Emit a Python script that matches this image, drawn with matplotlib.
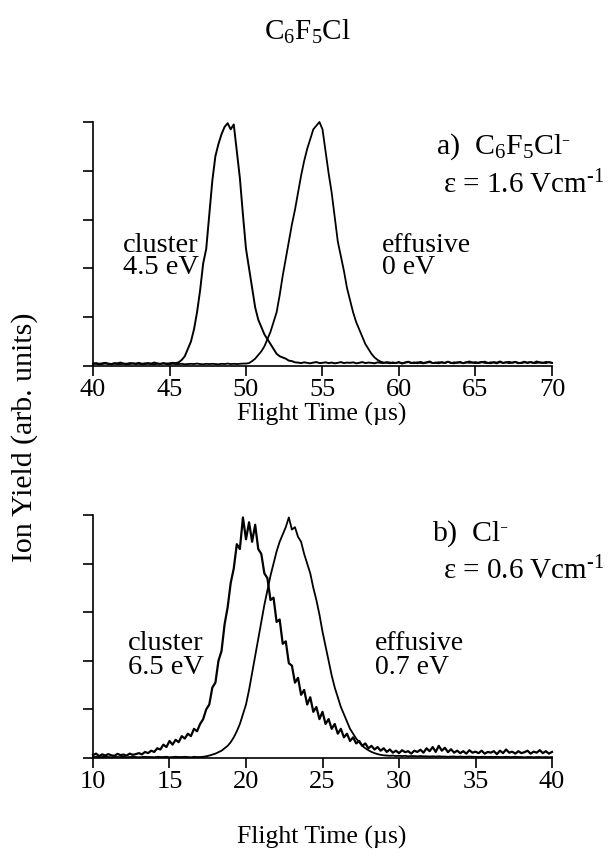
import numpy as np
import matplotlib
matplotlib.use("Agg")
import matplotlib.pyplot as plt

plt.rcParams['font.family'] = 'serif'
plt.rcParams['font.serif'] = ['Liberation Serif', 'DejaVu Serif']
plt.rcParams['mathtext.fontset'] = 'custom'
plt.rcParams['mathtext.rm'] = 'Liberation Serif'
plt.rcParams['mathtext.it'] = 'Liberation Serif:italic'

# time-of-flight bins (us), 0.2 us steps
t_a = np.round(np.arange(40.0, 70.01, 0.2), 2)
t_b = np.round(np.arange(10.0, 40.01, 0.2), 2)

# a) C6F5Cl- , cluster beam
cluster_a = [
    0.010, 0.012, 0.009, 0.011, 0.013, 0.010, 0.008, 0.012, 0.011, 0.014,
    0.010, 0.009, 0.012, 0.011, 0.010, 0.013, 0.009, 0.011, 0.012, 0.010,
    0.014, 0.011, 0.009, 0.012, 0.010, 0.011, 0.013, 0.012,
    0.015, 0.025, 0.040, 0.070, 0.100, 0.150, 0.220, 0.310, 0.420, 0.480,
    0.620, 0.760, 0.860, 0.910, 0.950, 0.980, 0.995, 0.970, 0.990, 0.880,
    0.770, 0.620, 0.480, 0.400, 0.320, 0.240, 0.190, 0.160, 0.130, 0.110,
    0.090, 0.070, 0.050, 0.040, 0.035, 0.030, 0.022, 0.020, 0.015,
    0.014, 0.012, 0.015, 0.013, 0.011, 0.014, 0.016, 0.012, 0.013, 0.015,
    0.012, 0.014, 0.011, 0.013, 0.016, 0.012, 0.014, 0.013, 0.015, 0.011,
    0.013, 0.016, 0.012, 0.014, 0.013, 0.011, 0.015, 0.013, 0.012, 0.016,
    0.014, 0.012, 0.013, 0.015, 0.011, 0.014, 0.016, 0.013, 0.012, 0.015,
    0.013, 0.011, 0.014, 0.016, 0.012, 0.013, 0.015, 0.014, 0.012, 0.017,
    0.013, 0.011, 0.015, 0.014, 0.012, 0.016, 0.013, 0.015, 0.012, 0.014,
    0.017, 0.013, 0.012, 0.015, 0.014, 0.011, 0.016, 0.013, 0.015, 0.012,
    0.014, 0.017, 0.013, 0.012, 0.015, 0.014, 0.016, 0.012, 0.013, 0.015,
    0.014, 0.012, 0.016, 0.013,
]

# a) effusive beam
effusive_a = [
    0.008, 0.009, 0.007, 0.008, 0.010, 0.008, 0.007, 0.009, 0.008, 0.008,
    0.009, 0.007, 0.008, 0.010, 0.008, 0.009, 0.007, 0.008, 0.009, 0.008,
    0.007, 0.009, 0.008, 0.010, 0.008, 0.007, 0.009, 0.008, 0.008, 0.009,
    0.007, 0.008, 0.009, 0.008, 0.010, 0.008, 0.007, 0.009, 0.008, 0.009,
    0.008, 0.007, 0.009, 0.008, 0.010, 0.008, 0.009, 0.008, 0.009, 0.010,
    0.010,
    0.012, 0.020, 0.030, 0.045, 0.060, 0.080, 0.110, 0.140, 0.180, 0.220,
    0.290, 0.370, 0.440, 0.510, 0.580, 0.640, 0.710, 0.780, 0.840, 0.890,
    0.930, 0.970, 0.985, 1.000, 0.970, 0.880, 0.790, 0.710, 0.610, 0.510,
    0.450, 0.390, 0.320, 0.270, 0.220, 0.180, 0.150, 0.120, 0.090, 0.070,
    0.050, 0.035, 0.025, 0.018, 0.014,
    0.013, 0.011, 0.015, 0.012, 0.016, 0.010, 0.014, 0.018, 0.012, 0.015,
    0.011, 0.017, 0.013, 0.015, 0.019, 0.012, 0.014, 0.011, 0.016, 0.013,
    0.018, 0.012, 0.015, 0.013, 0.017, 0.011, 0.014, 0.019, 0.013, 0.016,
    0.012, 0.015, 0.018, 0.013, 0.011, 0.016, 0.014, 0.019, 0.012, 0.015,
    0.017, 0.013, 0.016, 0.011, 0.014, 0.018, 0.012, 0.016, 0.013, 0.019,
    0.014, 0.012, 0.017, 0.015, 0.013,
]

# b) Cl- , cluster beam
cluster_b = [
    0.012, 0.018, 0.008, 0.015, 0.010, 0.016, 0.011, 0.009, 0.017, 0.012,
    0.014, 0.010, 0.018, 0.013, 0.016,
    0.020, 0.015, 0.025, 0.020, 0.030, 0.025, 0.040, 0.035, 0.055, 0.045,
    0.070, 0.055, 0.075, 0.065, 0.090, 0.080, 0.100, 0.090, 0.120, 0.110,
    0.140, 0.160, 0.200, 0.220, 0.290, 0.310, 0.400, 0.440, 0.550, 0.620,
    0.720, 0.780, 0.880, 0.860, 0.990, 0.900, 0.970, 0.890, 0.960, 0.860,
    0.840, 0.760, 0.740, 0.650, 0.660, 0.560, 0.570, 0.470, 0.480, 0.390,
    0.380, 0.310, 0.330, 0.260, 0.280, 0.220, 0.250, 0.190, 0.210, 0.160,
    0.190, 0.140, 0.160, 0.120, 0.140, 0.100, 0.120, 0.085, 0.100, 0.070,
    0.085, 0.060, 0.070, 0.050, 0.060, 0.040, 0.050, 0.035, 0.045, 0.030,
    0.040,
    0.025, 0.035, 0.022, 0.030, 0.020, 0.032, 0.024, 0.028, 0.018, 0.030,
    0.025, 0.034, 0.022, 0.040, 0.028, 0.045, 0.025, 0.050, 0.030, 0.042,
    0.024, 0.036, 0.022, 0.030, 0.020, 0.028, 0.018, 0.032, 0.022, 0.026,
    0.020, 0.030, 0.018, 0.025, 0.022, 0.028, 0.016, 0.030, 0.020, 0.035,
    0.022, 0.026, 0.018, 0.028, 0.020, 0.024, 0.030, 0.018, 0.026, 0.022,
    0.032, 0.020, 0.028, 0.018, 0.025,
]

# b) effusive beam
effusive_b = [
    0.004, 0.005, 0.003, 0.004, 0.005, 0.004, 0.003, 0.005, 0.004, 0.004,
    0.005, 0.003, 0.004, 0.005, 0.004, 0.003, 0.004, 0.005, 0.004, 0.004,
    0.003, 0.005, 0.004, 0.004, 0.005, 0.003, 0.004, 0.005, 0.004, 0.004,
    0.005, 0.004, 0.003, 0.005, 0.004, 0.004,
    0.005, 0.007, 0.010, 0.014, 0.018, 0.024, 0.030, 0.040, 0.050, 0.065,
    0.085, 0.110, 0.140, 0.180, 0.220, 0.280, 0.350, 0.420, 0.490, 0.560,
    0.630, 0.690, 0.750, 0.800, 0.850, 0.890, 0.920, 0.950, 0.990, 0.940,
    0.950, 0.910, 0.890, 0.840, 0.800, 0.760, 0.700, 0.650, 0.590, 0.520,
    0.460, 0.400, 0.340, 0.290, 0.250, 0.210, 0.180, 0.150, 0.120, 0.100,
    0.080, 0.065, 0.050, 0.040, 0.032, 0.025, 0.020, 0.016, 0.013, 0.011,
    0.010, 0.009, 0.010, 0.008, 0.009, 0.008, 0.009, 0.007, 0.008, 0.008,
    0.007, 0.008, 0.007, 0.007, 0.006, 0.007, 0.006, 0.007, 0.006, 0.006,
    0.005, 0.006, 0.006, 0.005, 0.006, 0.005, 0.005, 0.006, 0.005, 0.005,
    0.004, 0.005, 0.005, 0.004, 0.005, 0.004, 0.005, 0.004, 0.004, 0.005,
    0.004, 0.004, 0.005, 0.004, 0.004, 0.003, 0.004, 0.004, 0.003, 0.004,
    0.004, 0.003, 0.004, 0.003, 0.004,
]

xticks_a = [40, 45, 50, 55, 60, 65, 70]
xticks_b = [10, 15, 20, 25, 30, 35, 40]
yticks = [0, 0.2, 0.4, 0.6, 0.8, 1.0]

W, H = 615, 857
fig = plt.figure(figsize=(W / 100, H / 100), dpi=100)

def px(x, y):
    return x / W, 1 - y / H

ax_a = fig.add_axes([93 / W, 1 - 366 / H, 459 / W, 244 / H])
ax_b = fig.add_axes([93 / W, 1 - 758 / H, 459 / W, 243 / H])

for ax, t, c, e, xt, lwc in [(ax_a, t_a, cluster_a, effusive_a, xticks_a, 1.4),
                             (ax_b, t_b, cluster_b, effusive_b, xticks_b, 1.6)]:
    ax.plot(t, e, color='black', lw=1.3, clip_on=False)
    ax.plot(t, c, color='black', lw=lwc, clip_on=False)
    ax.set_xlim(xt[0], xt[-1])
    ax.set_ylim(0, 1.0)
    ax.set_xticks(xt)
    ax.set_yticks(yticks)
    ax.set_yticklabels([])
    ax.spines['top'].set_visible(False)
    ax.spines['right'].set_visible(False)
    ax.spines['left'].set_linewidth(1.2)
    ax.spines['bottom'].set_linewidth(1.2)
    ax.tick_params(direction='out', length=7, width=1.2, labelsize=19, pad=2)

fig.text(*px(322, 414), 'Flight Time (µs)', fontsize=18.5, ha='center', va='center')
fig.text(*px(322, 837), 'Flight Time (µs)', fontsize=18.5, ha='center', va='center')

fig.text(*px(307, 32), r'C$_6$F$_5$Cl', fontsize=21, ha='center', va='center')
fig.text(*px(25, 437), 'Ion Yield (arb. units)', fontsize=21.5, rotation=90,
         ha='center', va='center')

fig.text(*px(436, 147), r'a)  C$_6$F$_5$Cl$^{\bar{\ }}$', fontsize=21.5, va='center')
fig.text(*px(443, 185), r'ε = 1.6 Vcm$^{\text{-}1}$', fontsize=21, va='center')
fig.text(*px(123, 245), 'cluster', fontsize=20.5, va='center')
fig.text(*px(123, 268), '4.5 eV', fontsize=20.5, va='center')
fig.text(*px(382, 245), 'effusive', fontsize=20, va='center')
fig.text(*px(382, 268), '0 eV', fontsize=20, va='center')

fig.text(*px(432, 534), r'b)  Cl$^{\bar{\ }}$', fontsize=21.5, va='center')
fig.text(*px(443, 571), r'ε = 0.6 Vcm$^{\text{-}1}$', fontsize=21, va='center')
fig.text(*px(128, 644), 'cluster', fontsize=20.5, va='center')
fig.text(*px(128, 668), '6.5 eV', fontsize=20.5, va='center')
fig.text(*px(375, 643), 'effusive', fontsize=20, va='center')
fig.text(*px(375, 668), '0.7 eV', fontsize=20, va='center')

fig.savefig('out.png', dpi=100)
